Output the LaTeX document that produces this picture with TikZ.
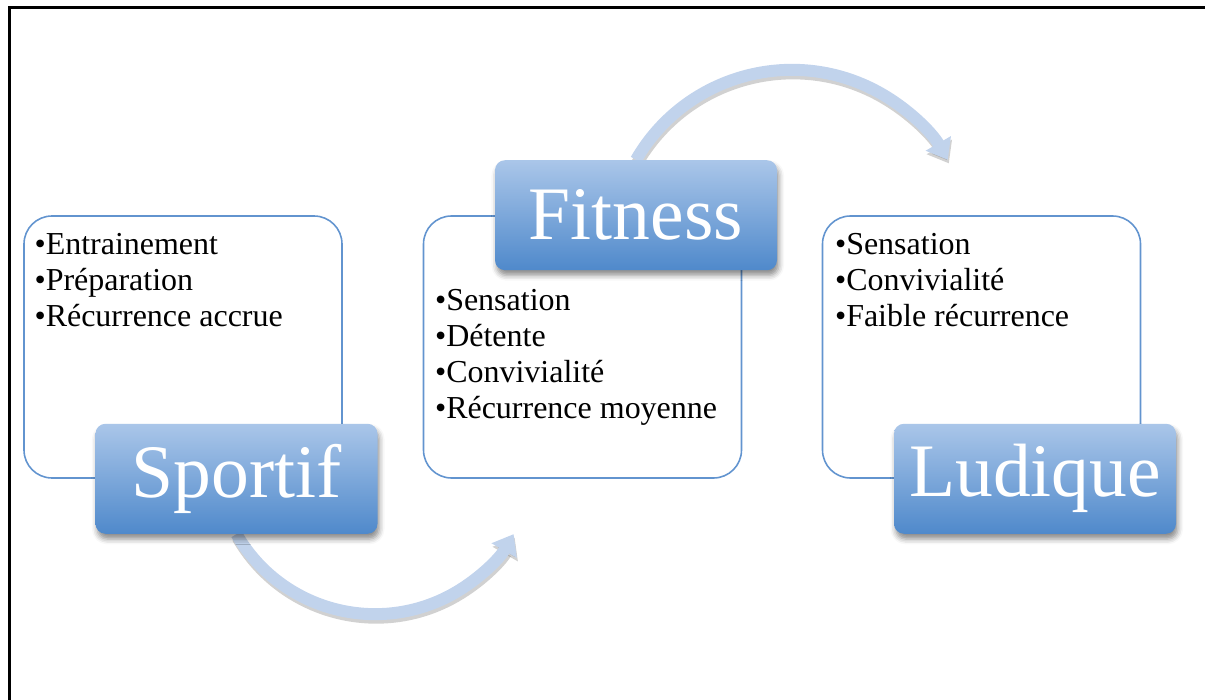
\documentclass[tikz,border=0pt]{standalone}
\usepackage{fontspec}
\setmainfont{Liberation Serif}
\usepackage{tikz}
\definecolor{PratiqueLine}{HTML}{6294CF}
\definecolor{PratiqueTop}{HTML}{AAC6E9}
\definecolor{PratiqueBottom}{HTML}{4F89CB}
\definecolor{PratiqueFlow}{HTML}{C1D3EC}
\usetikzlibrary{calc, arrows.meta, shadows, shadows.blur, positioning, backgrounds}
\tikzset{
  panel/.style={draw=PratiqueLine, line width=0.9pt, rounded corners=0.56cm,
    minimum width=6.36cm, minimum height=5.24cm},
  badge/.style={rectangle, rounded corners=0.2cm, minimum width=5.64cm,
    minimum height=2.2cm, top color=PratiqueTop, bottom color=PratiqueBottom,
    text=white, font=\fontsize{43}{50}\selectfont,
    blur shadow={shadow xshift=1pt, shadow yshift=-3pt, shadow blur radius=3pt,
      shadow opacity=45}},
  items/.style={anchor=north west, inner sep=0pt, align=left,
    font=\fontsize{18.2}{20.5}\selectfont},
  flow/.style={draw=PratiqueFlow, line width=0.24cm,
    -{Triangle[width=0.56cm, length=0.38cm]}},
  flowshadow/.style={flow, draw=black, opacity=0.18,
    transform canvas={xshift=0.6pt, yshift=-2pt}}
}
\begin{document}
\begin{tikzpicture}
  \useasboundingbox (0,0) rectangle (24.1,14);
  % page frame
  \draw[line width=0.06cm] (0.19,0) -- (0.19,13.84) -- (24.1,13.84);

  % three panels
  \node[panel] (sportifbox) at (3.66,7.06) {};
  \node[panel] (fitnessbox) at (11.65,7.06) {};
  \node[panel] (ludiquebox) at (19.63,7.06) {};

  % headers
  \node[badge] (sportif) at ([xshift=1.07cm]sportifbox.south) {Sportif};
  \node[badge] (fitness) at ([xshift=1.07cm]fitnessbox.north) {Fitness};
  \node[badge] (ludique) at ([xshift=1.07cm]ludiquebox.south) {Ludique};

  % curved arrows, behind the headers
  \begin{pgfonlayer}{background}
    \draw[flowshadow] (sportif.south)
      arc[start angle=210, end angle=330, radius=3.2cm];
    \draw[flow] (sportif.south)
      arc[start angle=210, end angle=330, radius=3.2cm];
    \draw[flowshadow] (fitness.north)
      arc[start angle=150, end angle=30, radius=3.6cm];
    \draw[flow] (fitness.north)
      arc[start angle=150, end angle=30, radius=3.6cm];
  \end{pgfonlayer}

  % bullet lists
  \node[items] (sportiflist) at ($(sportifbox.north west)+(0.22,-0.36)$)
    {•Entrainement\\•Préparation\\•Récurrence accrue};
  \node[items] (fitnesslist) at ($(fitnessbox.west |- fitness.south)+(0.24,-0.36)$)
    {•Sensation\\•Détente\\•Convivialité\\•Récurrence moyenne};
  \node[items] (ludiquelist) at ($(ludiquebox.north west)+(0.26,-0.36)$)
    {•Sensation\\•Convivialité\\•Faible récurrence};
\end{tikzpicture}
\end{document}
